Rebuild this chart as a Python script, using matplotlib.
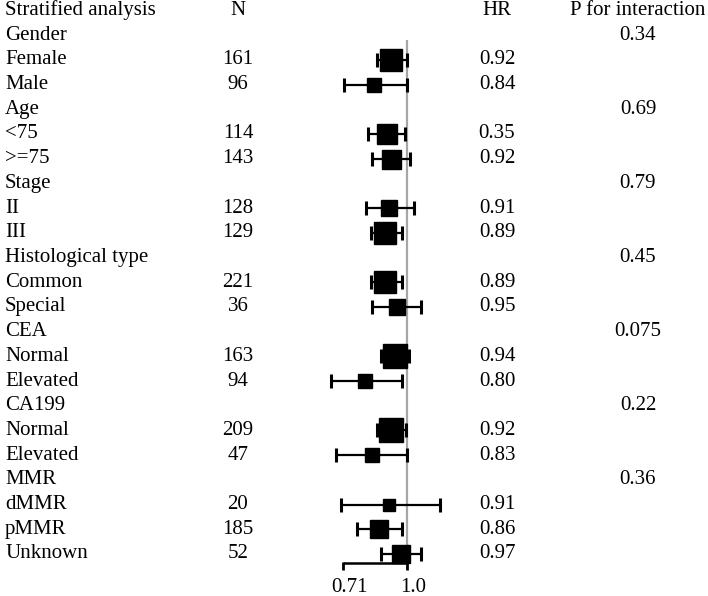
import matplotlib
matplotlib.use("Agg")
import matplotlib.pyplot as plt
import matplotlib.transforms as mtransforms
import numpy as np

plt.rcParams['font.family'] = ['Liberation Serif', 'DejaVu Serif']

labels = ["Stratified analysis", "Gender", "Female", "Male", "Age", "<75", ">=75",
          "Stage", "II", "III", "Histological type", "Common", "Special",
          "CEA", "Normal", "Elevated", "CA199", "Normal", "Elevated",
          "MMR", "dMMR", "pMMR", "Unknown"]
n_text = ["N", "", "161", "96", "", "114", "143", "", "128", "129", "", "221", "36",
          "", "163", "94", "", "209", "47", "", "20", "185", "52"]
hr_text = ["HR", "", "0.92", "0.84", "", "0.35", "0.92", "", "0.91", "0.89", "", "0.89", "0.95",
           "", "0.94", "0.80", "", "0.92", "0.83", "", "0.91", "0.86", "0.97"]
p_text = ["P for interaction", "0.34", "", "", "0.69", "", "", "0.79", "", "", "0.45", "", "",
          "0.075", "", "", "0.22", "", "", "0.36", "", "", ""]

# estimates (rows with a box)
est_rows = [2, 3, 5, 6, 8, 9, 11, 12, 14, 15, 17, 18, 20, 21, 22]
hr = [0.92, 0.84, 0.90, 0.92, 0.91, 0.89, 0.89, 0.95, 0.94, 0.80, 0.92, 0.83, 0.91, 0.86, 0.97]
lo = [0.853, 0.714, 0.813, 0.831, 0.803, 0.824, 0.824, 0.829, 0.872, 0.666, 0.852, 0.684, 0.704, 0.764, 0.870]
hi = [1.002, 1.000, 0.991, 1.018, 1.040, 0.972, 0.972, 1.078, 1.009, 0.972, 0.993, 1.000, 1.195, 0.972, 1.080]
weights = [21.7, 14.3, 19.7, 19.0, 16.7, 22.7, 22.7, 16.3, 23.3, 14.3, 23.3, 14.0, 11.3, 18.0, 17.7]
ticks = [0.71, 1.0]
tick_labels = ["0.71", "1.0"]

W, H = 708, 596
fig = plt.figure(figsize=(W / 100, H / 100), dpi=100)
ax = fig.add_axes([0, 0, 1, 1])
ax.set_xscale('log')
k = np.log(1 / 0.71) / 64.0
ax.set_xlim(0.71 * np.exp(-343 * k), 0.71 * np.exp((W - 343) * k))
row_h = 24.7
y0 = 10.5
ax.set_ylim((H - y0) / row_h, -y0 / row_h)
ax.axis('off')

fs = 15
tr = ax.get_yaxis_transform()
for i in range(len(labels)):
    ax.text(5 / W, i, labels[i], transform=tr, ha='left', va='center', fontsize=fs)
    if n_text[i]:
        ax.text(238 / W, i, n_text[i], transform=tr, ha='center', va='center', fontsize=fs)
    if hr_text[i]:
        ax.text(497 / W, i, hr_text[i], transform=tr, ha='center', va='center', fontsize=fs)
    if p_text[i]:
        ax.text(638 / W, i, p_text[i], transform=tr, ha='center', va='center', fontsize=fs)

axis_row = (563 - y0) / row_h
# reference line
ax.plot([1.0, 1.0], [1.2, axis_row], color='#a6a6a6', lw=1.6, zorder=1, solid_capstyle='butt')

hr_a = np.array(hr)
ax.errorbar(hr_a, est_rows, xerr=[hr_a - np.array(lo), np.array(hi) - hr_a], fmt='none',
            ecolor='black', elinewidth=1.6, capsize=5.0, capthick=2.2, zorder=2)
for r, h, w in zip(est_rows, hr, weights):
    ax.plot([h], [r], marker='s', color='black', markersize=w * 0.72, zorder=3, linestyle='none')

# x axis
ax.plot([ticks[0], ticks[-1]], [axis_row, axis_row], color='black', lw=1.8, zorder=2,
        solid_capstyle='butt')
tick_len = 7 / row_h
label_shift = mtransforms.offset_copy(ax.transData, fig=fig, x=6, y=0, units='dots')
for t, tl in zip(ticks, tick_labels):
    ax.plot([t, t], [axis_row - 0.03, axis_row + tick_len], color='black', lw=2.0,
            solid_capstyle='butt')
    ax.text(t, (587 - y0) / row_h, tl, ha='center', va='center', fontsize=fs,
            transform=label_shift)

fig.savefig('out.png', dpi=100)
